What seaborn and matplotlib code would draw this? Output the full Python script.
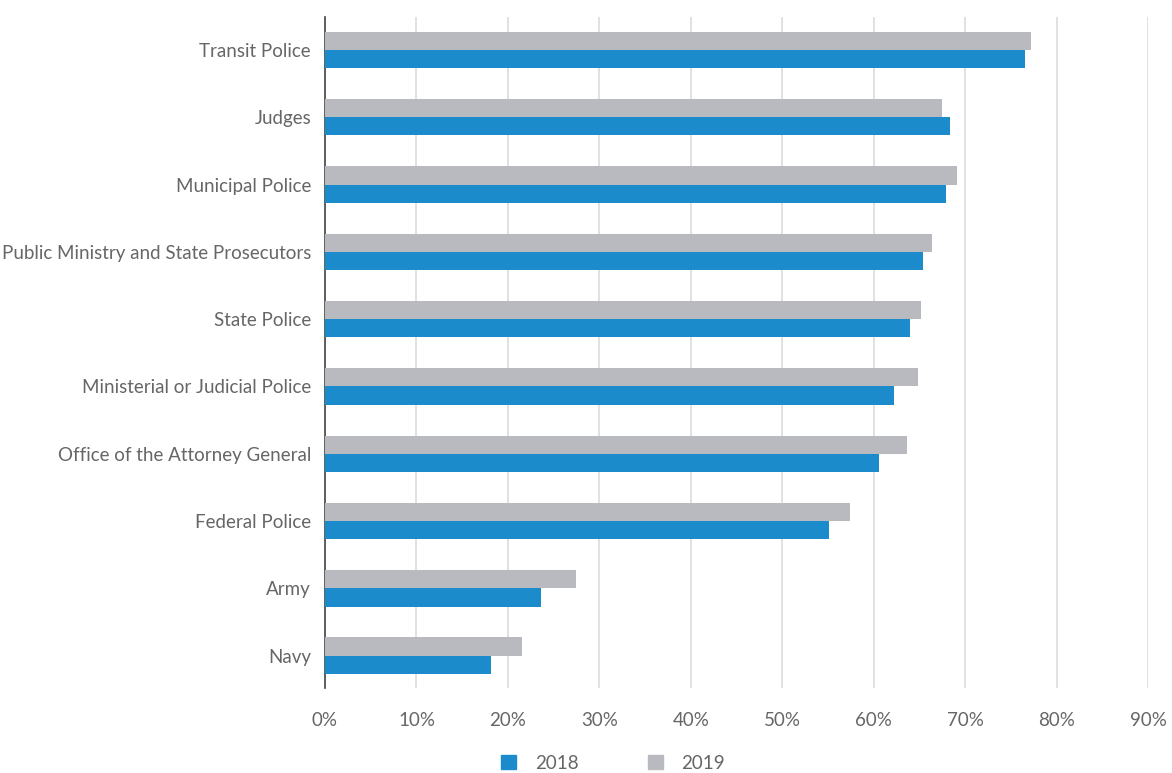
import pandas as pd
import matplotlib.pyplot as plt
import seaborn as sns
from matplotlib.patches import Patch

categories = ["Transit Police", "Judges", "Municipal Police",
              "Public Ministry and State Prosecutors", "State Police",
              "Ministerial or Judicial Police", "Office of the Attorney General",
              "Federal Police", "Army", "Navy"]
values_2018 = [76.6, 68.4, 67.9, 65.4, 64.0, 62.2, 60.6, 55.1, 23.6, 18.1]
values_2019 = [77.2, 67.5, 69.1, 66.4, 65.2, 64.8, 63.6, 57.4, 27.5, 21.5]
years = ["2018", "2019"]
colors = {"2018": "#1b8bcb", "2019": "#b9bac0"}

df = pd.DataFrame({
    "category": categories * 2,
    "value": values_2018 + values_2019,
    "year": ["2018"] * len(categories) + ["2019"] * len(categories),
})

sns.set_style("white")
plt.rcParams["font.family"] = ["Lato", "DejaVu Sans"]
text_color = "#666666"

fig = plt.figure(figsize=(11.72, 7.73), dpi=100)
ax = fig.add_axes([0.2773, 0.110, 0.7022, 0.868])

# 2019 drawn above 2018 inside each group
sns.barplot(data=df, y="category", x="value", hue="year", hue_order=["2019", "2018"],
            order=categories, palette=colors, orient="h", width=0.54,
            saturation=1, linewidth=0, ax=ax, legend=False, zorder=3)

ax.set_xlim(0, 90)
ax.set_ylim(len(categories) - 0.52, -0.49)
ax.set_xticks(range(0, 91, 10))
ax.set_xticklabels([f"{t}%" for t in range(0, 91, 10)])
ax.xaxis.grid(True, color="#dcdcdc", linewidth=1.2, zorder=0)
ax.set_axisbelow(True)
for s in ["top", "right", "bottom"]:
    ax.spines[s].set_visible(False)
ax.spines["left"].set_color("#444444")
ax.spines["left"].set_linewidth(1.2)
ax.tick_params(axis="x", length=7, color="#dcdcdc", width=1.2, pad=10,
               labelsize=13.5, labelcolor=text_color)
ax.tick_params(axis="y", length=0, pad=10, labelsize=13.5, labelcolor=text_color)
ax.set_xlabel("")
ax.set_ylabel("")

handles = [Patch(color=colors[y], label=y) for y in years]
fig.legend(handles=handles, loc="lower center", bbox_to_anchor=(0.523, -0.02), ncol=2,
           frameon=False, fontsize=13.5, labelcolor=text_color, handlelength=0.8,
           handleheight=0.8, columnspacing=3.7, handletextpad=1.0)

fig.savefig("out.png", dpi=100)
